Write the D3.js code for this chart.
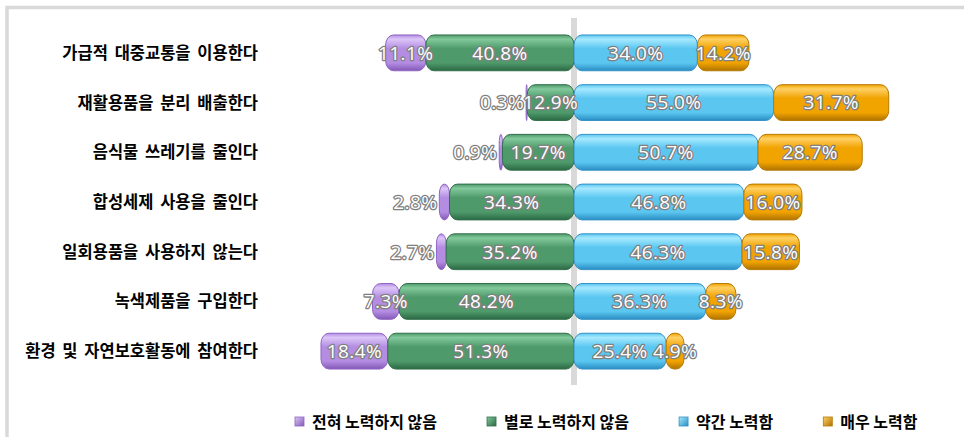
<!DOCTYPE html>
<html>
<head>
<meta charset="utf-8">
<script src="https://cdn.jsdelivr.net/npm/d3@7"></script>
<style>
  html, body { margin: 0; padding: 0; background: #ffffff; }
  svg { display: block; }
</style>
</head>
<body>
<svg id="chart" width="964" height="437"></svg>
<script>
// Survey items (rows, top to bottom)
const categories = [
  "가급적 대중교통을 이용한다",
  "재활용품을 분리 배출한다",
  "음식물 쓰레기를 줄인다",
  "합성세제 사용을 줄인다",
  "일회용품을 사용하지 않는다",
  "녹색제품을 구입한다",
  "환경 및 자연보호활동에 참여한다"
];

// Response shares (%) for each item
const seriesNames = ["전혀 노력하지 않음", "별로 노력하지 않음", "약간 노력함", "매우 노력함"];
const notAtAll  = [11.1, 0.3, 0.9, 2.8, 2.7, 7.3, 18.4];
const notMuch   = [40.8, 12.9, 19.7, 34.3, 35.2, 48.2, 51.3];
const somewhat  = [34.0, 55.0, 50.7, 46.8, 46.3, 36.3, 25.4];
const veryMuch  = [14.2, 31.7, 28.7, 16.0, 15.8, 8.3, 4.9];

const palette = [
  { light: "#dcc6f7", base: "#b48de3", dark: "#8358b6", edge: "#9064c4" },
  { light: "#82c99b", base: "#4f9a6b", dark: "#2b6944", edge: "#326f4b" },
  { light: "#a6e9ff", base: "#5bc7f1", dark: "#2a8dc3", edge: "#3592c6" },
  { light: "#ffd064", base: "#f1a300", dark: "#b07300", edge: "#b67a05" }
];

const svg = d3.select("#chart");
const defs = svg.append("defs");

// Vertical shading to give each bar a cylinder look
palette.forEach((c, i) => {
  const g = defs.append("linearGradient")
    .attr("id", "grad" + i).attr("x1", 0).attr("y1", 0).attr("x2", 0).attr("y2", 1);
  g.append("stop").attr("offset", "0%").attr("stop-color", c.base);
  g.append("stop").attr("offset", "12%").attr("stop-color", c.light);
  g.append("stop").attr("offset", "38%").attr("stop-color", c.base);
  g.append("stop").attr("offset", "78%").attr("stop-color", c.base);
  g.append("stop").attr("offset", "100%").attr("stop-color", c.dark);
  const m = defs.append("linearGradient")
    .attr("id", "mark" + i).attr("x1", 0).attr("y1", 0).attr("x2", 1).attr("y2", 1);
  m.append("stop").attr("offset", "0%").attr("stop-color", c.light);
  m.append("stop").attr("offset", "100%").attr("stop-color", c.dark);
});

// Outer frame
svg.append("path")
  .attr("d", "M7,437 V7.5 H964")
  .attr("fill", "none")
  .attr("stroke", "#d9d9d9")
  .attr("stroke-width", 3.5);

// Scales
const zeroX = 574, pxPerPct = 3.63;
const x = d3.scaleLinear()
  .domain([-60, 60])
  .range([zeroX - 60 * pxPerPct, zeroX + 60 * pxPerPct]);
const y = d3.scaleBand()
  .domain(categories)
  .range([28, 376])
  .paddingInner(0.28)
  .paddingOuter(0.14);

// Zero reference line
svg.append("line")
  .attr("x1", x(0)).attr("x2", x(0))
  .attr("y1", 18).attr("y2", 385)
  .attr("stroke", "#d9d9d9")
  .attr("stroke-width", 6);

// Stack the segments: negative side grows left from zero, positive side right
const rows = categories.map((cat, i) => {
  const segs = [];
  const left1 = -notMuch[i];
  const left0 = left1 - notAtAll[i];
  segs.push({ s: 0, v: notAtAll[i], a: left0, b: left1 });
  segs.push({ s: 1, v: notMuch[i], a: left1, b: 0 });
  segs.push({ s: 2, v: somewhat[i], a: 0, b: somewhat[i] });
  segs.push({ s: 3, v: veryMuch[i], a: somewhat[i], b: somewhat[i] + veryMuch[i] });
  return { cat, segs };
});

const bh = y.bandwidth();
const rowG = svg.append("g").selectAll("g")
  .data(rows).join("g")
  .attr("transform", d => `translate(0,${y(d.cat)})`);

rowG.selectAll("rect")
  .data(d => d.segs).join("rect")
  .attr("x", d => x(d.a))
  .attr("y", 0)
  .attr("width", d => Math.max(1, x(d.b) - x(d.a)))
  .attr("height", bh)
  .attr("rx", d => Math.min(8, Math.max(0.5, (x(d.b) - x(d.a)) / 2)))
  .attr("ry", 10)
  .attr("fill", d => `url(#grad${d.s})`)
  .attr("stroke", d => palette[d.s].edge)
  .attr("stroke-width", 1);

// Value labels
rowG.selectAll("text.val")
  .data(d => d.segs).join("text")
  .attr("class", "val")
  .attr("x", d => {
    if (d.s === 0 && d.v < 5) return x(d.a) - 2;
    return (x(d.a) + x(d.b)) / 2;
  })
  .attr("y", bh / 2)
  .attr("dy", "0.36em")
  .attr("text-anchor", d => (d.s === 0 && d.v < 5) ? "end" : "middle")
  .attr("font-family", "'Open Sans', 'DejaVu Sans', sans-serif")
  .attr("font-size", 19)
  .attr("letter-spacing", 0.4)
  .attr("fill", "#ffffff")
  .attr("stroke", "#808080")
  .attr("stroke-width", 2.6)
  .attr("paint-order", "stroke")
  .attr("stroke-linejoin", "round")
  .text(d => d.v.toFixed(1) + "%");

// Category labels
svg.append("g").selectAll("text")
  .data(categories).join("text")
  .attr("x", 258)
  .attr("y", d => y(d) + bh / 2)
  .attr("dy", "0.36em")
  .attr("text-anchor", "end")
  .attr("font-family", "'Noto Sans CJK KR', sans-serif")
  .attr("font-weight", "bold")
  .attr("font-size", 16.5)
  .attr("word-spacing", 3)
  .attr("fill", "#000000")
  .text(d => d);

// Legend
const legend = svg.append("g");
let lx = 295;
seriesNames.forEach((name, i) => {
  const g = legend.append("g").attr("transform", `translate(${lx},0)`);
  g.append("rect")
    .attr("x", 0).attr("y", 417)
    .attr("width", 9).attr("height", 9)
    .attr("fill", `url(#mark${i})`)
    .attr("stroke", palette[i].edge)
    .attr("stroke-width", 0.8);
  const t = g.append("text")
    .attr("x", 17).attr("y", 422)
    .attr("dy", "0.36em")
    .attr("font-family", "'Noto Sans CJK KR', sans-serif")
    .attr("font-weight", "bold")
    .attr("font-size", 16)
    .attr("fill", "#000000")
    .text(name);
  lx += 17 + t.node().getComputedTextLength() + 50;
});
</script>
</body>
</html>
